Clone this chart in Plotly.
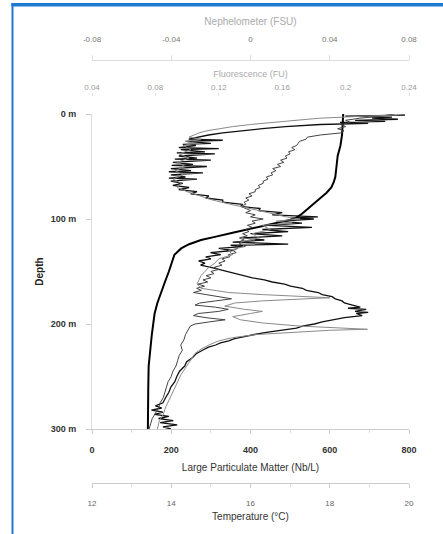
import plotly.graph_objects as go

# ---------------- data ----------------
# Temperature profile (°C)
temp_depth = [0, 10, 20, 30, 40, 50, 60, 65, 70, 75, 80, 85, 90, 95, 100, 104, 108, 113,
              117, 120, 124, 128, 134, 140, 145, 150, 160, 170, 180, 190, 200, 210, 225,
              240, 260, 280, 300]
temp_vals = [18.34, 18.33, 18.31, 18.27, 18.2, 18.17, 18.14, 18.1, 18.04, 17.92, 17.76,
             17.62, 17.46, 17.3, 17.1, 16.6, 16.1, 15.55, 15.1, 14.75, 14.45, 14.25, 14.08,
             14.03, 13.99, 13.94, 13.84, 13.74, 13.65, 13.58, 13.54, 13.51, 13.47, 13.43,
             13.42, 13.41, 13.41]

# Large Particulate Matter (Nb/L)
lpm_depth = [0, 1, 2, 3, 4, 5, 6, 7, 8, 9, 10, 11, 12, 14, 16, 18, 20, 22, 24, 25, 26, 28,
             29, 30, 32, 33, 34, 36, 37, 38, 40, 42, 43, 44, 46, 48, 49, 50, 52, 54, 55, 56,
             58, 60, 61, 62, 64, 66, 68, 70, 72, 74, 76, 78, 80, 82, 84, 86, 88, 90, 92, 94,
             96, 98, 99, 100, 102, 104, 106, 108, 110, 112, 114, 116, 118, 120, 122, 124,
             125, 126, 128, 130, 132, 134, 136, 138, 140, 142, 144, 146, 148, 150, 152, 154,
             156, 158, 160, 162, 164, 166, 168, 170, 172, 174, 176, 178, 180, 182, 184, 185,
             186, 188, 189, 190, 192, 194, 196, 198, 200, 202, 204, 206, 208, 210, 212, 214,
             216, 218, 220, 222, 225, 228, 232, 236, 240, 245, 250, 255, 260, 265, 270, 275,
             278, 280, 282, 284, 286, 288, 290, 292, 294, 296, 298, 300]
lpm_vals = [777, 790, 639, 757, 707, 772, 664, 740, 626, 697, 576, 526, 488, 430, 375, 330,
            294, 264, 244, 330, 237, 300, 229, 262, 219, 320, 224, 285, 214, 310, 219, 265,
            209, 300, 204, 255, 201, 290, 199, 250, 194, 280, 199, 236, 194, 265, 199, 229,
            204, 245, 219, 265, 249, 295, 287, 330, 330, 380, 375, 425, 420, 480, 455, 570,
            501, 560, 475, 530, 445, 555, 430, 495, 400, 480, 380, 435, 355, 495, 350, 387,
            320, 355, 299, 325, 287, 300, 269, 285, 274, 300, 320, 345, 360, 385, 405, 435,
            455, 486, 501, 531, 541, 571, 581, 606, 614, 631, 637, 657, 677, 646, 692, 664,
            697, 667, 682, 637, 606, 581, 561, 531, 516, 475, 440, 410, 385, 360, 345, 324,
            312, 294, 279, 264, 254, 239, 234, 221, 214, 209, 199, 194, 186, 179, 160, 176,
            150, 179, 158, 194, 168, 205, 172, 215, 179, 199]

# Fluorescence (FU)
fl_depth = [0, 2, 4, 6, 8, 10, 12, 14, 16, 18, 20, 22, 24, 26, 28, 30, 32, 34, 36, 38, 40,
            42, 44, 46, 48, 50, 52, 54, 56, 58, 60, 62, 64, 66, 68, 70, 72, 74, 76, 78, 80,
            82, 84, 86, 88, 90, 92, 94, 96, 98, 100, 102, 104, 106, 108, 110, 112, 114, 116,
            118, 120, 122, 124, 126, 128, 130, 132, 134, 136, 138, 140, 142, 144, 146, 148,
            150, 152, 154, 156, 158, 160, 162, 164, 166, 168, 170, 172, 174, 176, 178, 180,
            182, 184, 186, 188, 190, 192, 194, 196, 198, 200, 202, 205, 210, 215, 220, 225,
            230, 235, 240, 245, 250, 255, 260, 265, 270, 275, 280, 285, 290, 295, 300]
fl_vals = [0.231, 0.222, 0.209, 0.200, 0.203, 0.197, 0.200, 0.195, 0.199, 0.197, 0.184,
           0.176, 0.175, 0.171, 0.170, 0.169, 0.166, 0.168, 0.164, 0.165, 0.162, 0.163,
           0.159, 0.161, 0.157, 0.159, 0.154, 0.156, 0.153, 0.154, 0.150, 0.151, 0.148,
           0.148, 0.145, 0.146, 0.143, 0.143, 0.139, 0.141, 0.137, 0.139, 0.136, 0.137,
           0.134, 0.137, 0.140, 0.137, 0.143, 0.140, 0.148, 0.141, 0.143, 0.138, 0.141,
           0.137, 0.139, 0.135, 0.138, 0.133, 0.136, 0.132, 0.134, 0.131, 0.132, 0.129,
           0.131, 0.126, 0.127, 0.122, 0.124, 0.120, 0.122, 0.117, 0.120, 0.115, 0.117,
           0.112, 0.115, 0.110, 0.113, 0.107, 0.111, 0.106, 0.109, 0.104, 0.112, 0.122,
           0.128, 0.118, 0.108, 0.105, 0.118, 0.126, 0.120, 0.107, 0.104, 0.112, 0.124,
           0.114, 0.105, 0.102, 0.101, 0.099, 0.098, 0.096, 0.097, 0.095, 0.094, 0.093,
           0.091, 0.090, 0.088, 0.087, 0.086, 0.085, 0.083, 0.082, 0.080, 0.078, 0.077,
           0.076]

# Nephelometer (FSU)
neph_depth = [0, 1, 2, 3, 4, 6, 8, 10, 12, 14, 16, 18, 20, 22, 24, 26, 28, 30, 34, 38, 42,
              46, 50, 54, 58, 62, 66, 70, 74, 78, 82, 86, 90, 94, 98, 100, 102, 104, 106,
              110, 114, 118, 122, 126, 130, 134, 138, 142, 146, 150, 154, 158, 162, 166,
              168, 170, 172, 174, 175, 176, 178, 180, 183, 186, 188, 190, 193, 196, 199,
              202, 204, 205, 206, 208, 210, 213, 216, 220, 224, 228, 234, 240, 248, 256,
              264, 272, 280, 286, 292, 300]
neph_vals = [0.078, 0.073, 0.058, 0.045, 0.035, 0.023, 0.010, 0.000, -0.009, -0.016,
             -0.022, -0.026, -0.029, -0.031, -0.025, -0.033, -0.028, -0.034, -0.030,
             -0.036, -0.031, -0.037, -0.033, -0.038, -0.034, -0.039, -0.035, -0.037,
             -0.032, -0.026, -0.019, -0.010, 0.000, 0.009, 0.018, 0.025, 0.013, 0.021,
             0.006, 0.010, 0.001, 0.004, -0.005, -0.003, -0.011, -0.009, -0.016, -0.018,
             -0.021, -0.023, -0.025, -0.026, -0.027, -0.025, -0.019, -0.011, 0.006, 0.025,
             0.040, 0.028, 0.006, -0.008, -0.013, -0.003, 0.006, 0.000, -0.009, -0.005,
             0.006, 0.025, 0.045, 0.059, 0.040, 0.018, 0.003, -0.009, -0.016, -0.021,
             -0.025, -0.028, -0.030, -0.032, -0.035, -0.037, -0.039, -0.041, -0.043,
             -0.044, -0.046, -0.047]

depth_ticks = [0, 100, 200, 300]
depth_labels = ["0 m", "100 m", "200 m", "300 m"]
lpm_ticks = [0, 200, 400, 600, 800]
temp_ticks = [12, 14, 16, 18, 20]
fl_ticks = [0.04, 0.08, 0.12, 0.16, 0.2, 0.24]
fl_labels = ["0.04", "0.08", "0.12", "0.16", "0.2", "0.24"]
neph_ticks = [-0.08, -0.04, 0, 0.04, 0.08]
neph_labels = ["-0.08", "-0.04", "0", "0.04", "0.08"]

# ---------------- figure ----------------
FONT = "Liberation Sans, Arial, sans-serif"
fig = go.Figure()

fig.add_trace(go.Scatter(x=neph_vals, y=neph_depth, xaxis="x4", yaxis="y", mode="lines",
                         line=dict(color="#8a8a8a", width=1), name="Nephelometer"))
fig.add_trace(go.Scatter(x=fl_vals, y=fl_depth, xaxis="x3", yaxis="y", mode="lines",
                         line=dict(color="#444444", width=1), name="Fluorescence"))
fig.add_trace(go.Scatter(x=lpm_vals, y=lpm_depth, xaxis="x", yaxis="y", mode="lines",
                         line=dict(color="#111111", width=1.3), name="LPM"))
fig.add_trace(go.Scatter(x=temp_vals, y=temp_depth, xaxis="x2", yaxis="y", mode="lines",
                         line=dict(color="#000000", width=2), name="Temperature"))

W, H = 443, 534


def py(pix):
    return (H - pix) / H


def px(pix):
    return pix / W


XDOM = [px(92), px(409)]

fig.update_layout(
    width=W, height=H,
    margin=dict(l=0, r=0, t=0, b=0, autoexpand=False),
    paper_bgcolor="white", plot_bgcolor="white",
    showlegend=False,
    font=dict(family=FONT, size=9, color="#333"),
    yaxis=dict(
        domain=[py(429), py(114)], range=[300, 0], tickvals=depth_ticks,
        ticktext=depth_labels, automargin=False, anchor="x",
        ticks="outside", ticklen=5, tickcolor="#ccc", showline=True, linecolor="#ddd",
        showgrid=False, zeroline=False, ticklabelstandoff=8,
        tickfont=dict(size=9, color="#333", weight="bold"),
        title=dict(text="Depth", font=dict(size=10, color="#222", weight="bold"), standoff=5),
    ),
    xaxis=dict(
        domain=XDOM, range=[0, 800], tickvals=lpm_ticks, anchor="y", side="bottom",
        automargin=False,
        ticks="outside", ticklen=4, tickcolor="#ccc", showline=True, linecolor="#ccc",
        minor=dict(dtick=100, ticks="outside", ticklen=3, tickcolor="#ddd"),
        showgrid=False, zeroline=False, ticklabelstandoff=8,
        tickfont=dict(size=9, color="#333", weight="bold"),
        title=dict(text="Large Particulate Matter (Nb/L)", font=dict(size=10, color="#333"),
                   standoff=10),
    ),
    xaxis2=dict(
        domain=XDOM, range=[12, 20], tickvals=temp_ticks, anchor="free", position=py(483),
        overlaying="x", side="bottom", automargin=False,
        ticks="outside", ticklen=4, tickcolor="#ccc", showline=True, linecolor="#ccc",
        minor=dict(dtick=1, ticks="outside", ticklen=3, tickcolor="#ddd"),
        showgrid=False, zeroline=False, ticklabelstandoff=8,
        tickfont=dict(size=8, color="#666"),
        title=dict(text="Temperature (°C)", font=dict(size=10, color="#333"), standoff=6),
    ),
    xaxis3=dict(
        domain=XDOM, range=[0.04, 0.24], tickvals=fl_ticks, ticktext=fl_labels,
        anchor="free", position=py(96), overlaying="x", side="top", automargin=False,
        ticks="outside", ticklen=3, tickcolor="#e4e4e4", showline=False,
        showgrid=False, zeroline=False,
        tickfont=dict(size=8, color="#999"),
        title=dict(text="Fluorescence (FU)", font=dict(size=9, color="#aaa"), standoff=2),
    ),
    xaxis4=dict(
        domain=XDOM, range=[-0.08, 0.08], tickvals=neph_ticks, ticktext=neph_labels,
        anchor="free", position=py(60), overlaying="x", side="top", automargin=False,
        ticks="outside", ticklen=5, tickcolor="#ddd", showline=True, linecolor="#ddd",
        showgrid=False, zeroline=False, ticklabelstandoff=10,
        tickfont=dict(size=8, color="#777"),
        title=dict(text="Nephelometer (FSU)", font=dict(size=10, color="#aaa"), standoff=6),
    ),
    shapes=[
        dict(type="rect", xref="paper", yref="paper", layer="above",
             x0=px(11.5), x1=px(13.5), y0=py(3), y1=0,
             fillcolor="#1f78d1", line=dict(width=0)),
        dict(type="rect", xref="paper", yref="paper", layer="above",
             x0=px(11.5), x1=1, y0=py(3), y1=py(6.5),
             fillcolor="#1f78d1", line=dict(width=0)),
    ],
)

fig.write_html("out.html",
               config={"displayModeBar": False},
               post_script="document.body.style.margin='0px';"
                           "document.body.style.overflow='hidden';")
